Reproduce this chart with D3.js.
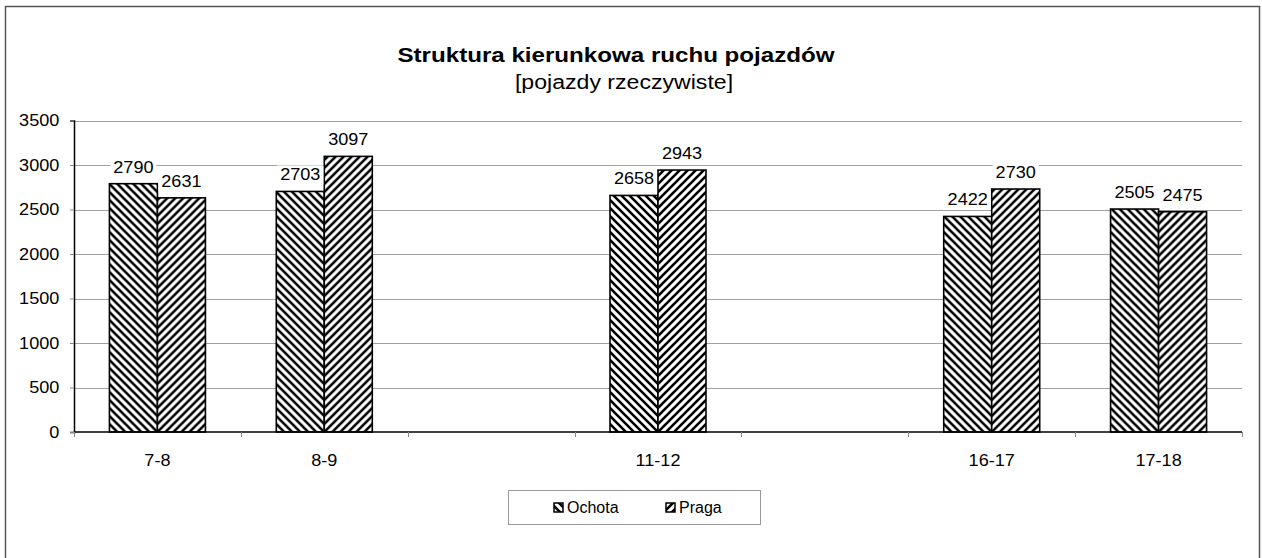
<!DOCTYPE html>
<html>
<head>
<meta charset="utf-8">
<script src="https://cdn.jsdelivr.net/npm/d3@7"></script>
<style>
  body { margin: 0; background: #fff; }
  svg { display: block; font-family: "Liberation Sans", Arial, sans-serif; }
</style>
</head>
<body>
<div class="container"></div>
<script>
// godziny (puste pola = przerwy na osi)
const categories = ["7-8", "8-9", "", "11-12", "", "16-17", "17-18"];
const series = ["Ochota", "Praga"];
const ochota = [2790, 2703, null, 2658, null, 2422, 2505];
const praga = [2631, 3097, null, 2943, null, 2730, 2475];
const yTicks = [0, 500, 1000, 1500, 2000, 2500, 3000, 3500];

const width = 1262;
const height = 558;
const margin = { top: 120.5, right: 20, bottom: 126, left: 74 };
const sx = 1.13; // tekst w oryginale jest nieco rozciagniety

const svg = d3
  .select(".container")
  .append("svg")
  .attr("width", width)
  .attr("height", height);

// wzory kreskowania
const defs = svg.append("defs");
const addPattern = (id, dir) => {
  let p = defs
    .append("pattern")
    .attr("id", id)
    .attr("patternUnits", "userSpaceOnUse")
    .attr("width", 8)
    .attr("height", 8);
  p.append("rect").attr("width", 8).attr("height", 8).attr("fill", "#fff");
  let d =
    dir == "down"
      ? "M-2,-2L10,10M-2,6L2,10M6,-2L10,2"
      : "M-2,10L10,-2M-2,2L2,-2M6,10L10,6";
  p.append("path")
    .attr("d", d)
    .attr("stroke", "#000")
    .attr("stroke-width", 2.6);
};
addPattern("pat-ochota", "down");
addPattern("pat-praga", "up");
const fills = { Ochota: "url(#pat-ochota)", Praga: "url(#pat-praga)" };

// ramka
svg
  .append("rect")
  .attr("x", 5.5)
  .attr("y", 6.5)
  .attr("width", 1254)
  .attr("height", 600)
  .attr("fill", "none")
  .attr("stroke", "#555")
  .attr("stroke-width", 1.5);

// tytul
svg
  .append("text")
  .attr("transform", "translate(616,62) scale(1.15,1)")
  .attr("text-anchor", "middle")
  .attr("font-size", 21)
  .attr("font-weight", "bold")
  .text("Struktura kierunkowa ruchu pojazdów");
svg
  .append("text")
  .attr("transform", "translate(624,89) scale(1.1,1)")
  .attr("text-anchor", "middle")
  .attr("font-size", 21)
  .text("[pojazdy rzeczywiste]");

const x0 = d3
  .scaleBand()
  .domain(d3.range(categories.length))
  .range([margin.left, width - margin.right])
  .padding(0);
const groupW = 96;
const x1 = d3.scaleBand().domain(series).range([0, groupW]);
const y = d3
  .scaleLinear()
  .domain([0, 3500])
  .range([height - margin.bottom, margin.top]);

// siatka
svg
  .append("g")
  .selectAll("line")
  .data(yTicks.slice(1))
  .join("line")
  .attr("x1", margin.left)
  .attr("x2", width - margin.right)
  .attr("y1", d => Math.round(y(d)) + 0.5)
  .attr("y2", d => Math.round(y(d)) + 0.5)
  .attr("stroke", "#a0a0a0")
  .attr("stroke-width", 1);

// os Y
const yAxis = svg
  .append("g")
  .attr("transform", `translate(${margin.left},0)`)
  .call(
    d3
      .axisLeft(y)
      .tickValues(yTicks)
      .tickFormat(d3.format("d"))
      .tickSize(4)
      .tickPadding(9)
  );
yAxis.select(".domain").attr("stroke", "#000").attr("stroke-width", 1.5);
yAxis.selectAll(".tick line").attr("stroke", "#888");
yAxis
  .selectAll("text")
  .attr("font-size", 16)
  .attr("font-family", "Liberation Sans, Arial, sans-serif")
  .attr("fill", "#000")
  .attr("transform", `scale(${sx},1)`);

// slupki
const data = categories.map((c, i) => ({
  i,
  values: [
    { key: "Ochota", value: ochota[i] },
    { key: "Praga", value: praga[i] }
  ].filter(v => v.value != null)
}));

const groups = svg
  .append("g")
  .selectAll("g")
  .data(data)
  .join("g")
  .attr(
    "transform",
    d => `translate(${x0(d.i) + x0.bandwidth() / 2 - groupW / 2},0)`
  );

groups
  .selectAll("rect")
  .data(d => d.values)
  .join("rect")
  .attr("x", d => x1(d.key))
  .attr("y", d => y(d.value))
  .attr("width", x1.bandwidth())
  .attr("height", d => y(0) - y(d.value))
  .attr("fill", d => fills[d.key])
  .attr("stroke", "#000")
  .attr("stroke-width", 1.6);

// etykiety wartosci z bialym tlem
const lab = groups
  .selectAll("g.lab")
  .data(d => d.values)
  .join("g")
  .attr("class", "lab")
  .attr(
    "transform",
    d => `translate(${x1(d.key) + x1.bandwidth() / 2},${y(d.value) - 11})`
  );
lab
  .append("rect")
  .attr("x", -23)
  .attr("y", -15)
  .attr("width", 46)
  .attr("height", 19)
  .attr("fill", "#fff");
lab
  .append("text")
  .attr("text-anchor", "middle")
  .attr("font-size", 16)
  .attr("transform", `scale(${sx},1)`)
  .text(d => d.value);

// os X
const xAxisY = y(0);
svg
  .append("line")
  .attr("x1", margin.left)
  .attr("x2", width - margin.right)
  .attr("y1", xAxisY)
  .attr("y2", xAxisY)
  .attr("stroke", "#000")
  .attr("stroke-width", 1.5);
svg
  .append("g")
  .selectAll("line")
  .data(d3.range(categories.length + 1))
  .join("line")
  .attr("x1", i => Math.round(margin.left + i * x0.step()) + 0.5)
  .attr("x2", i => Math.round(margin.left + i * x0.step()) + 0.5)
  .attr("y1", xAxisY)
  .attr("y2", xAxisY + 5)
  .attr("stroke", "#888");
svg
  .append("g")
  .selectAll("text")
  .data(categories)
  .join("text")
  .attr(
    "transform",
    (d, i) => `translate(${x0(i) + x0.bandwidth() / 2},466) scale(${sx},1)`
  )
  .attr("text-anchor", "middle")
  .attr("font-size", 16)
  .text(d => d);

// legenda
const legend = svg.append("g");
legend
  .append("rect")
  .attr("x", 508.5)
  .attr("y", 490.5)
  .attr("width", 252)
  .attr("height", 34)
  .attr("fill", "#fff")
  .attr("stroke", "#999");
const legX = [554, 666];
series.forEach((s, i) => {
  legend
    .append("rect")
    .attr("x", legX[i])
    .attr("y", 503)
    .attr("width", 9)
    .attr("height", 9)
    .attr("fill", fills[s])
    .attr("stroke", "#000")
    .attr("stroke-width", 1.5);
  legend
    .append("text")
    .attr("x", legX[i] + 13)
    .attr("y", 513)
    .attr("font-size", 16)
    .text(s);
});
</script>
</body>
</html>
